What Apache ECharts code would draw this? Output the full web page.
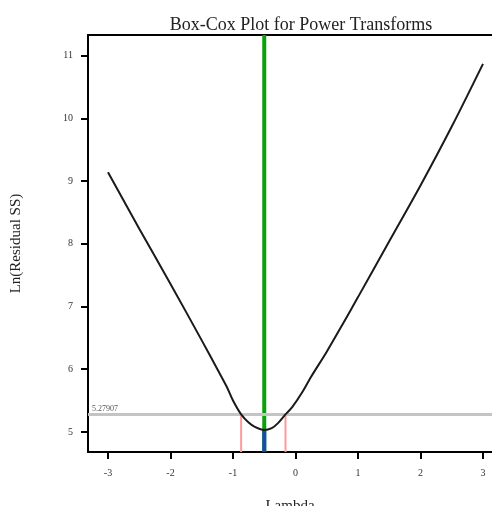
<!DOCTYPE html>
<html>
<head>
<meta charset="utf-8">
<script src="https://cdn.jsdelivr.net/npm/echarts@6/dist/echarts.min.js"></script>
<style>
  html, body { margin: 0; padding: 0; background: #fff; }
  #chart { width: 492px; height: 506px; }
</style>
</head>
<body>
<div id="chart"></div>
<script>
// Box-Cox: ln(residual SS) vs lambda
const lambdas = [-3, -2.5, -2, -1.5, -1.25, -1.1, -1, -0.87, -0.75, -0.65, -0.5, -0.38, -0.28, -0.16, -0.05, 0.1, 0.25, 0.5, 0.75, 1, 1.5, 2, 2.5, 3]
const lnSS = [9.14, 8.24, 7.36, 6.46, 6.0, 5.72, 5.5, 5.279, 5.15, 5.08, 5.03, 5.06, 5.14, 5.279, 5.4, 5.62, 5.88, 6.28, 6.71, 7.15, 8.04, 8.93, 9.87, 10.87]

const xTicks = [-3, -2, -1, 0, 1, 2, 3]
const yTicks = [5, 6, 7, 8, 9, 10, 11]

const bestLambda = -0.5
const minLnSS = 5.03
const ciLevel = 5.27907
const ciLambda = [-0.87, -0.16]

const xMin = -3.32, xMax = 3.144
const yMin = 4.68, yMax = 11.33

const serif = '"Liberation Serif", "DejaVu Serif", serif'

const chart = echarts.init(document.getElementById('chart'))

const axisText = { color: '#333', fontFamily: serif, fontSize: 10 }

chart.setOption({
  animation: false,
  title: {
    text: 'Box-Cox Plot for Power Transforms',
    left: 296, top: 11, textAlign: 'center',
    textStyle: { fontFamily: serif, fontSize: 18, fontWeight: 'normal', color: '#222' }
  },
  grid: { left: 88, top: 35, right: 0, bottom: 54, outerBoundsMode: 'none' },
  xAxis: [{
    type: 'value', min: xMin, max: xMax,
    name: 'Lambda', nameLocation: 'middle', nameGap: 47,
    nameTextStyle: { fontFamily: serif, fontSize: 15, color: '#222' },
    axisLine: { show: true, onZero: false, lineStyle: { color: '#000', width: 2 } },
    axisTick: { show: true, customValues: xTicks, length: 7, lineStyle: { color: '#000', width: 2 } },
    axisLabel: { customValues: xTicks, margin: 16, ...axisText },
    splitLine: { show: false }
  }, {
    type: 'value', position: 'top', min: xMin, max: xMax,
    axisLine: { show: true, lineStyle: { color: '#000', width: 2 } },
    axisTick: { show: false }, axisLabel: { show: false }, splitLine: { show: false }
  }],
  yAxis: {
    type: 'value', min: yMin, max: yMax,
    name: 'Ln(Residual SS)', nameLocation: 'middle', nameGap: 64,
    nameTextStyle: { fontFamily: serif, fontSize: 15, color: '#222' },
    axisLine: { show: true, onZero: false, lineStyle: { color: '#000', width: 2 } },
    axisTick: { show: true, customValues: yTicks, length: 7, lineStyle: { color: '#000', width: 2 } },
    axisLabel: { customValues: yTicks, margin: 15, ...axisText },
    splitLine: { show: false }
  },
  series: [
    {
      type: 'line', z: 1, symbol: 'none',
      data: [],
      markLine: {
        silent: true, symbol: 'none', animation: false,
        lineStyle: { color: '#c4c4c4', width: 3, type: 'solid' },
        label: { show: true, position: 'insideStartTop', distance: [4, 1], formatter: String(ciLevel),
          color: '#555', fontFamily: serif, fontSize: 8 },
        data: [{ yAxis: ciLevel }]
      }
    },
    ...ciLambda.map(l => ({
      type: 'line', z: 2, symbol: 'none',
      lineStyle: { color: '#ff9a9a', width: 2 },
      data: [[l, yMin], [l, ciLevel]]
    })),
    {
      type: 'line', z: 3, symbol: 'none',
      lineStyle: { color: '#0aa00a', width: 4 },
      data: [[bestLambda, yMin], [bestLambda, yMax]]
    },
    {
      type: 'line', z: 4, symbol: 'none',
      lineStyle: { color: '#1a4ab0', width: 4 },
      data: [[bestLambda, yMin], [bestLambda, minLnSS]]
    },
    {
      type: 'line', z: 5, symbol: 'none', smooth: 0.3,
      lineStyle: { color: '#1a1a1a', width: 2 },
      data: lambdas.map((l, i) => [l, lnSS[i]])
    }
  ]
})
</script>
</body>
</html>
